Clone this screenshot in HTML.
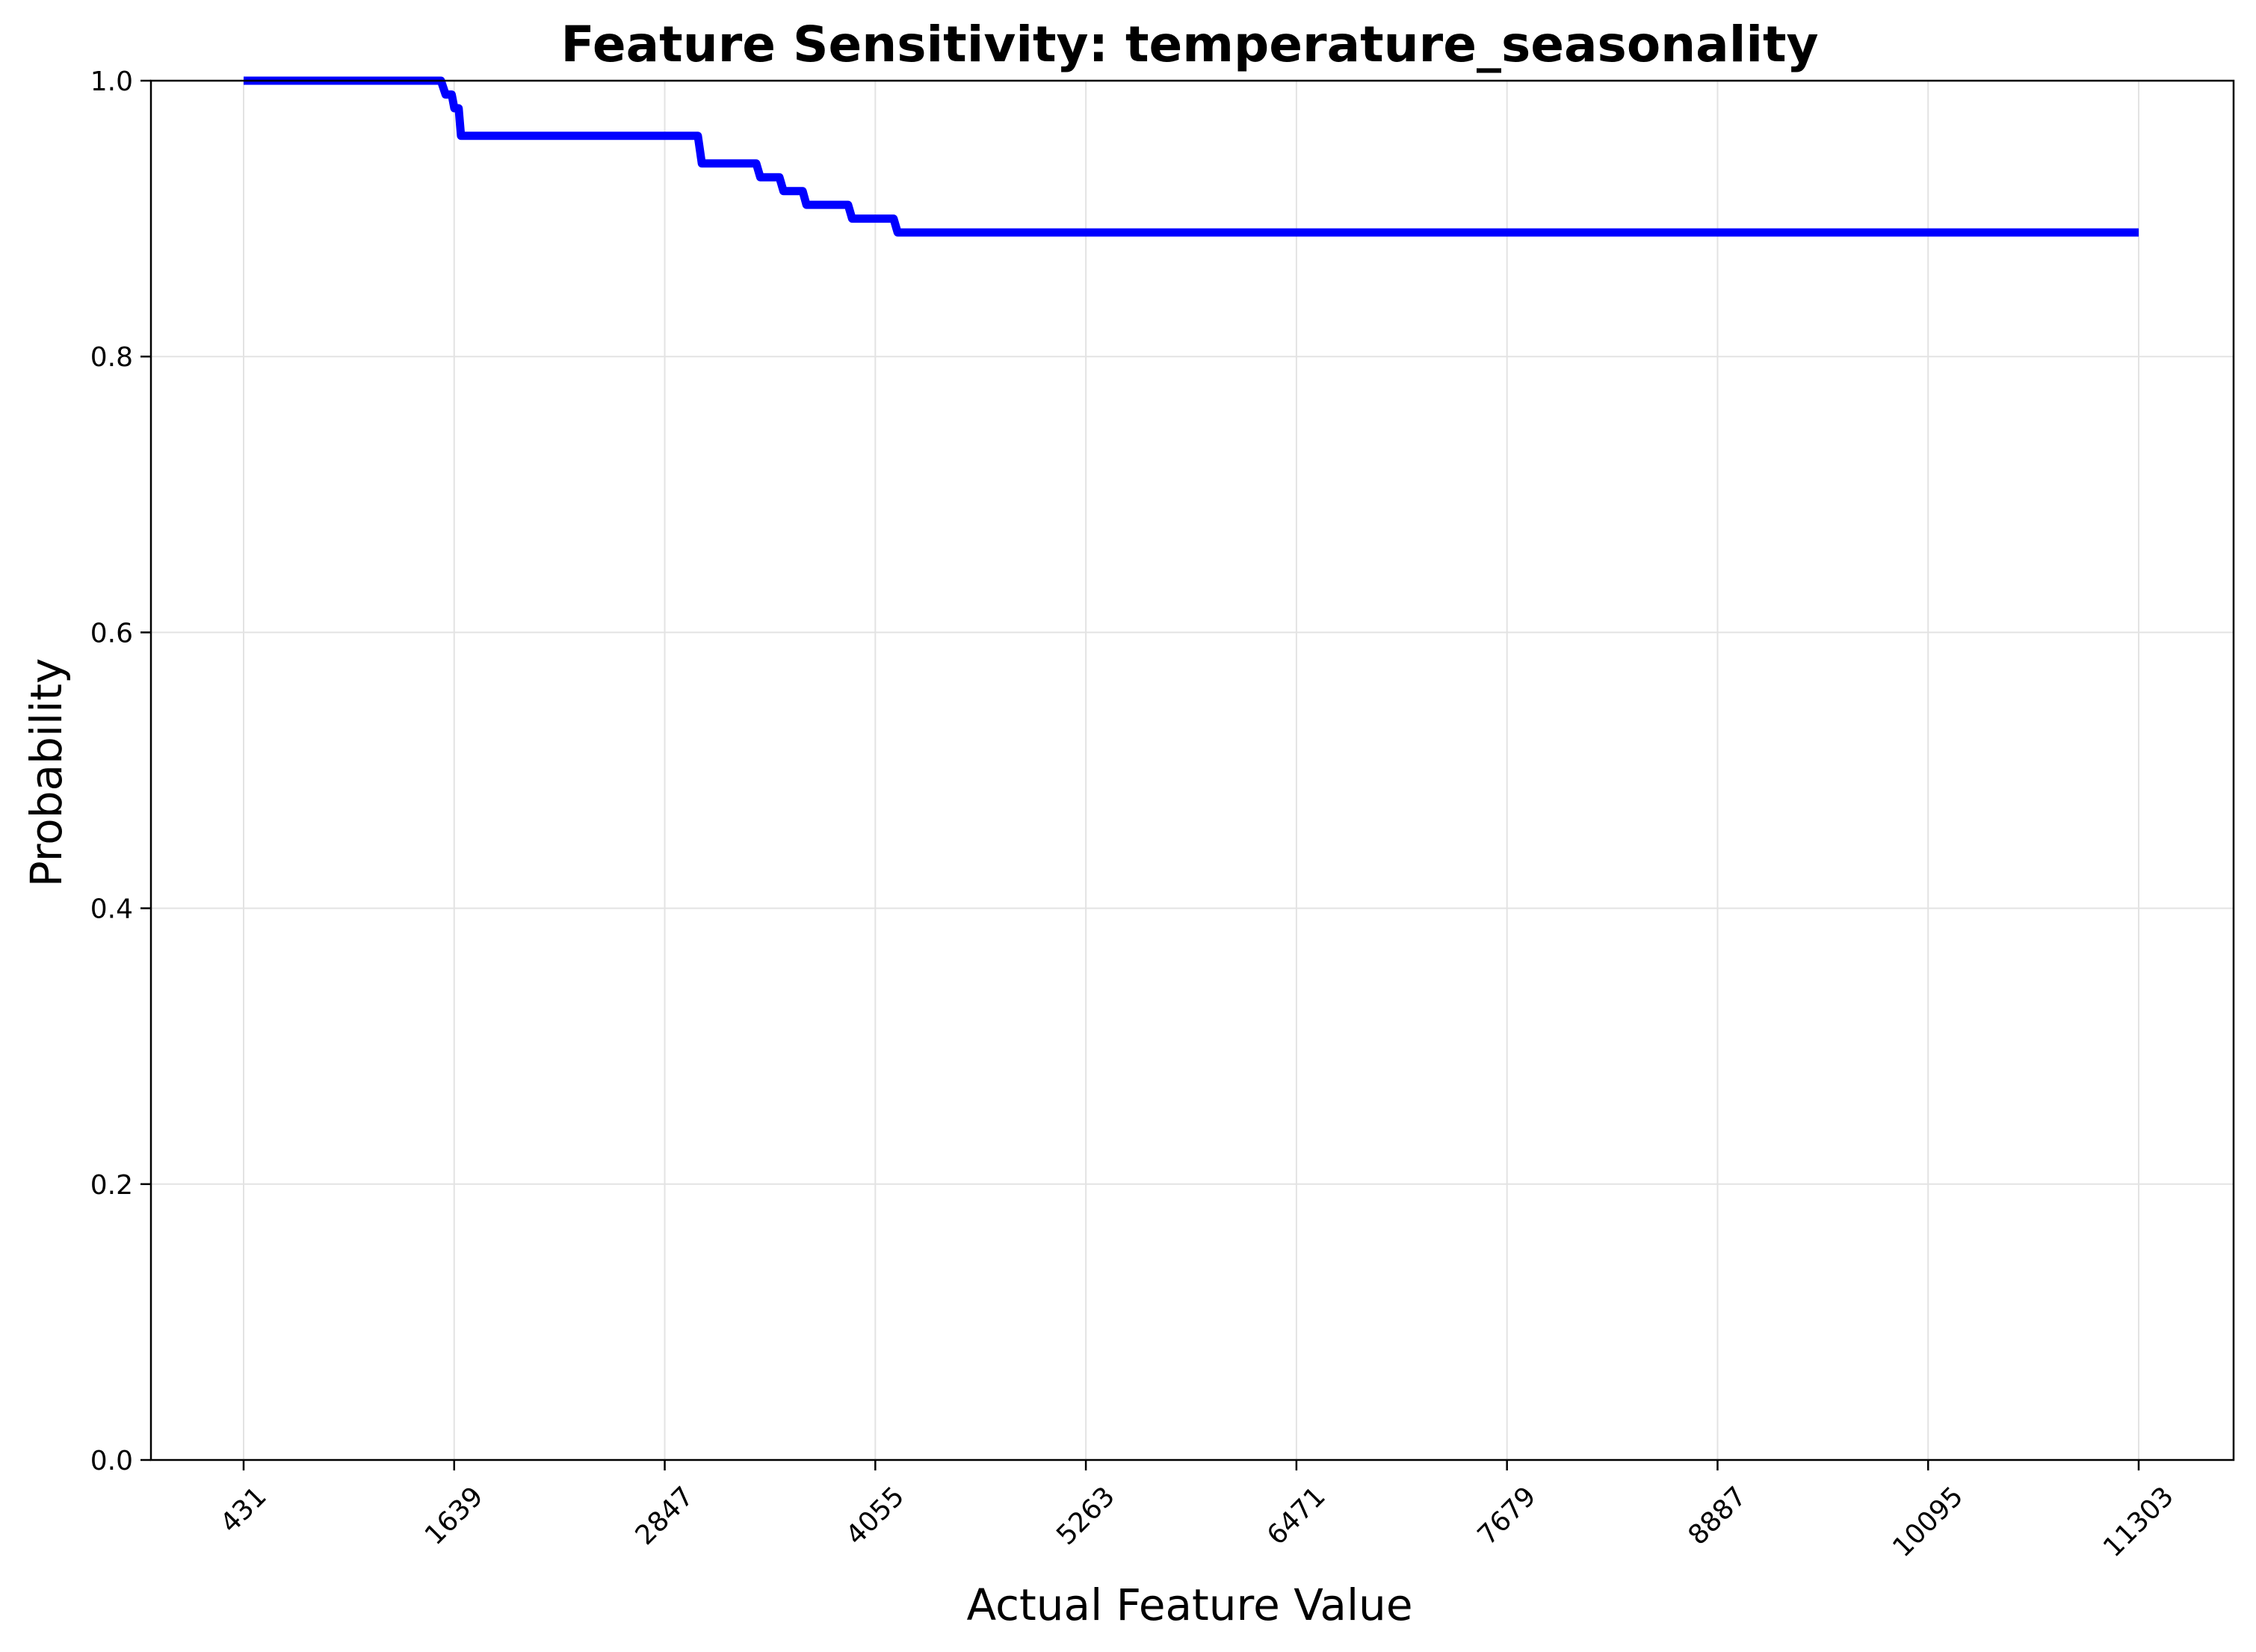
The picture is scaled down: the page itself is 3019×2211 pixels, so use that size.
<!DOCTYPE html>
<html><head><meta charset="utf-8"><style>
html,body{margin:0;padding:0;background:#fff}
svg{display:block;font-family:"DejaVu Sans","Liberation Sans",sans-serif}
</style></head><body>
<svg id="chart" width="3019" height="2211" viewBox="0 0 3019 2211">
<rect width="3019" height="2211" fill="#fff"/>
<g id="grid"></g>
<path id="line" fill="none" stroke="#0000ff" stroke-width="11" stroke-linejoin="round"/>
<rect x="202" y="108" width="2787" height="1846" fill="none" stroke="#000" stroke-width="2.5"/>
<g id="axes"></g>
<text x="1592" y="82" text-anchor="middle" font-size="66" font-weight="bold">Feature Sensitivity: temperature_seasonality</text>
<text x="1592" y="2168" text-anchor="middle" font-size="58">Actual Feature Value</text>
<text x="82" y="1034" text-anchor="middle" font-size="58" transform="rotate(-90 82 1034)">Probability</text>
</svg>
<script>
const xTicks = [431,1639,2847,4055,5263,6471,7679,8887,10095,11303];
const yTicks = [0,0.2,0.4,0.6,0.8,1.0];
const xValues = [431,1563,1590,1625,1640,1665,1678,3037,3060,3372,3395,3505,3528,3638,3660,3899,3922,4160,4183,11303];
const yValues = [1.0,1.0,0.99,0.99,0.98,0.98,0.96,0.96,0.94,0.94,0.93,0.93,0.92,0.92,0.91,0.91,0.90,0.90,0.89,0.89];
const NS='http://www.w3.org/2000/svg';
const X = v => 326 + (v-431)/(11303-431)*(2862-326);
const Y = v => 1954 - v*(1954-108);
const grid=document.getElementById('grid'), axes=document.getElementById('axes');
function mk(tag,attrs,parent){const e=document.createElementNS(NS,tag);for(const k in attrs)e.setAttribute(k,attrs[k]);parent.appendChild(e);return e;}
const FS=36;
xTicks.forEach(t=>{
  const x=X(t);
  const g=mk('line',{x1:x,x2:x,y1:108,y2:1954,stroke:'#e3e3e3','stroke-width':2},grid);
  
  
  const tk=mk('line',{x1:x,x2:x,y1:1954,y2:1968,stroke:'#000','stroke-width':2.5},axes);
  
  
  const s=String(t), w=s.length*0.636*FS;
  const cy=1984+(w*0.707+FS*0.707)/2;
  const tx=mk('text',{x:x,y:cy,'text-anchor':'middle','dominant-baseline':'central','font-size':FS,transform:`rotate(-45 ${x} ${cy})`},axes);
  tx.textContent=s;
  
  
});
yTicks.forEach(t=>{
  const y=Y(t);
  const g=mk('line',{x1:202,x2:2989,y1:y,y2:y,stroke:'#e3e3e3','stroke-width':2},grid);
  
  
  const tk=mk('line',{x1:188,x2:202,y1:y,y2:y,stroke:'#000','stroke-width':2.5},axes);
  
  
  const tx=mk('text',{x:178,y:y+13,'text-anchor':'end','font-size':FS},axes);
  tx.textContent=t.toFixed(1);
  
  
});
let d='';
xValues.forEach((v,i)=>{d+=(i?'L':'M')+X(v).toFixed(1)+' '+Y(yValues[i]).toFixed(1)+' ';});
document.getElementById('line').setAttribute('d',d);
</script>
</body></html>
